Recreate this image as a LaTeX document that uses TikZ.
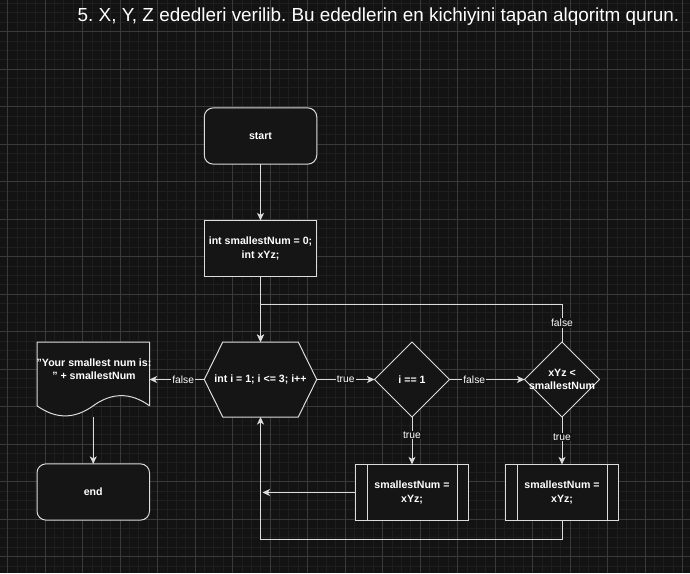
\documentclass[tikz,border=0pt]{standalone}
\usepackage{fontspec}
\setmainfont{Liberation Sans}
\usetikzlibrary{arrows.meta,calc,backgrounds}
\frenchspacing
\definecolor{bgc}{HTML}{131313}
\definecolor{minorc}{HTML}{1E1E1E}
\definecolor{majorc}{HTML}{3A3A3A}
\definecolor{linec}{HTML}{DCDCDC}
\definecolor{fillc}{HTML}{151515}
\tikzset{
  shapetext/.style={text=white,font=\fontsize{10.6}{13.5}\selectfont\bfseries,align=center,inner sep=0pt,outer sep=0pt},
  boxnode/.style={shapetext,rectangle,draw=linec,fill=fillc,line width=1pt,minimum width=112.5pt,minimum height=56.25pt},
  roundnode/.style={boxnode,rounded corners=9pt},
  plainnode/.style={shapetext,rectangle,minimum width=#1,minimum height=75pt},
  outline/.style={draw=linec,fill=fillc,line width=1pt,line join=round},
  conn/.style={draw=linec,line width=1pt,-{Stealth[length=7.5pt,width=7pt,inset=2pt]}},
  elabel/.style={fill=bgc,text=white,font=\fontsize{10.3}{12}\selectfont,inner sep=1pt},
  minorline/.style={draw=minorc,line width=0.6pt},
  majorline/.style={draw=majorc,line width=0.8pt}
}
\begin{document}
\begin{tikzpicture}[x=1pt,y=-1pt]
\useasboundingbox (0,0) rectangle (690,573);
\begin{scope}[on background layer]
  \fill[bgc] (0,0) rectangle (690,573);
  \clip (0,0) rectangle (690,573);
  \foreach \i in {-1,...,74} {\draw[minorline] ({7.5+9.375*\i},0) -- ++(0,573);}
  \foreach \i in {-4,...,58} {\draw[minorline] (0,{31.5+9.375*\i}) -- ++(690,0);}
  \foreach \i in {0,...,18} {\draw[majorline] ({7.5+37.5*\i},0) -- ++(0,573);}
  \foreach \i in {-1,...,15} {\draw[majorline] (0,{31.5+37.5*\i}) -- ++(690,0);}
\end{scope}

\node[text=white,font=\fontsize{18.9}{22}\selectfont,anchor=base,inner sep=0pt] (title) at (378.5,21.5)
  {5. X, Y, Z ededleri verilib. Bu ededlerin en kichiyini tapan alqoritm qurun.};

\node[roundnode] (start) at (260.5,136) {start};
\node[boxnode] (init) at (260.5,248.5) {int smallestNum = 0;\\int xYz;};
\node[plainnode=112.5pt] (hex) at (260.5,379.5) {int i = 1; i <= 3; i++};
\node[plainnode=112.5pt] (doc) at (93.25,379.5) {};
\node[shapetext] (doctext) at (94,369) {"Your smallest num is:\\" + smallestNum};
\node[roundnode] (end) at (93.25,492) {end};
\node[plainnode=75pt] (d1) at (412,379.5) {i == 1};
\node[plainnode=75pt] (d2) at (562,379.5) {xYz <\\smallestNum};
\node[boxnode] (p1) at (412,492.5) {smallestNum =\\xYz;};
\node[boxnode] (p2) at (562,492.5) {smallestNum =\\xYz;};

% process inner lines
\draw[linec,line width=1pt] ($(p1.north west)+(11.25,0)$) -- ($(p1.south west)+(11.25,0)$);
\draw[linec,line width=1pt] ($(p1.north east)+(-11.25,0)$) -- ($(p1.south east)+(-11.25,0)$);
\draw[linec,line width=1pt] ($(p2.north west)+(11.25,0)$) -- ($(p2.south west)+(11.25,0)$);
\draw[linec,line width=1pt] ($(p2.north east)+(-11.25,0)$) -- ($(p2.south east)+(-11.25,0)$);

\begin{scope}[on background layer]
  \path[outline] (hex.west) -- ($(hex.north west)+(18.5,0)$) -- ($(hex.north east)+(-18.5,0)$) -- (hex.east)
     -- ($(hex.south east)+(-18.5,0)$) -- ($(hex.south west)+(18.5,0)$) -- cycle;
  \path[outline] (d1.north) -- (d1.east) -- (d1.south) -- (d1.west) -- cycle;
  \path[outline] (d2.north) -- (d2.east) -- (d2.south) -- (d2.west) -- cycle;
  \path[outline] (37,342) -- (149.5,342) -- (149.5,405.75)
     .. controls (130.77,392.25) and (112.0,392.25) .. (93.25,405.75)
     .. controls (74.48,419.25) and (55.73,419.25) .. (37,405.75) -- cycle;
\end{scope}

\coordinate (j1) at (260.5,304.5);
\coordinate (j2) at (262.5,492.5);
\coordinate (j3) at (260.5,539);

\draw[conn] (start) -- (init);
\draw[conn] (init) -- (hex);
\draw[conn] (d2.north) -- node[elabel]{false} (d2.north |- j1) -- (j1) -- (hex.north);
\draw[conn] (hex.west) -- node[elabel,pos=0.385]{false} (doc.east);
\draw[conn] (doc.south) -- (end.north);
\draw[conn] (hex.east) -- node[elabel]{true} (d1.west);
\draw[conn] (d1.east) -- node[elabel,pos=0.33]{false} (d2.west);
\draw[conn] (d1.south) -- node[elabel,pos=0.38]{true} (p1.north);
\draw[conn] (d2.south) -- node[elabel,pos=0.42]{true} (p2.north);
\draw[conn] (p1.west) -- (j2);
\draw[conn] (p2.south) -- (p2.south |- j3) -- (j3) -- (hex.south);
\end{tikzpicture}
\end{document}
